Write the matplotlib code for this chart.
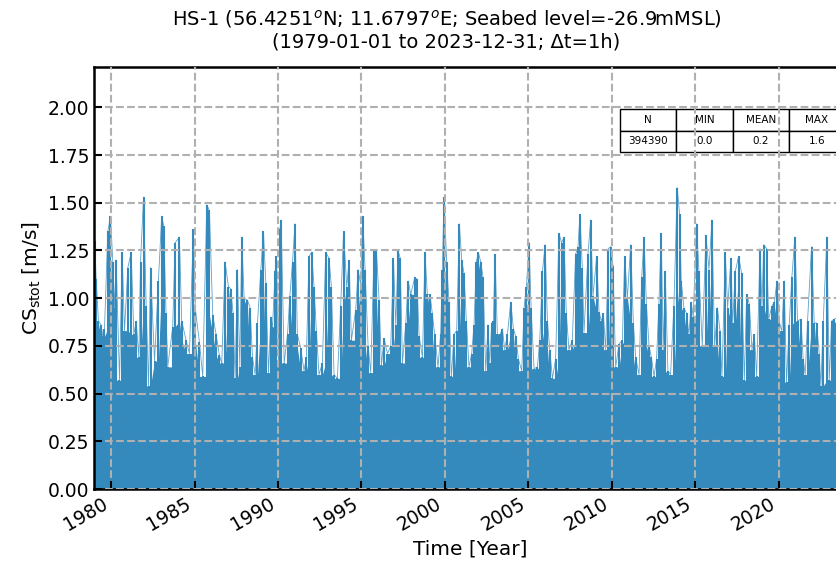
import matplotlib
matplotlib.use("Agg")
import matplotlib.pyplot as plt
import matplotlib.dates as mdates
import numpy as np
import pandas as pd

# Envelope of hourly current speed (decimal year, m/s)
t_year = [
    1979.02, 1979.10, 1979.24, 1979.40, 1979.50, 1979.60, 1979.80, 1979.96,
    1980.10, 1980.20, 1980.30, 1980.50, 1980.66, 1980.80, 1981.00, 1981.20,
    1981.36, 1981.50, 1981.66, 1981.76, 1981.94, 1982.10, 1982.24, 1982.36,
    1982.60, 1982.83, 1983.03, 1983.15, 1983.29, 1983.39, 1983.69, 1983.83,
    1984.09, 1984.23, 1984.49, 1984.69, 1984.93, 1985.05, 1985.29, 1985.49,
    1985.73, 1985.89, 1986.09, 1986.29, 1986.49, 1986.63, 1986.83, 1987.03,
    1987.17, 1987.31, 1987.43, 1987.57, 1987.71, 1987.83, 1987.97, 1988.17,
    1988.33, 1988.47, 1988.63, 1988.77, 1988.97, 1989.13, 1989.27, 1989.43,
    1989.57, 1989.67, 1989.83, 1989.91, 1990.03, 1990.11, 1990.19, 1990.37,
    1990.57, 1990.71, 1990.87, 1991.02, 1991.16, 1991.36, 1991.56, 1991.70,
    1991.86, 1992.02, 1992.16, 1992.30, 1992.46, 1992.66, 1992.86, 1993.06,
    1993.20, 1993.36, 1993.56, 1993.76, 1993.93, 1994.12, 1994.26, 1994.40,
    1994.66, 1994.80, 1994.96, 1995.08, 1995.22, 1995.40, 1995.56, 1995.76,
    1995.90, 1996.06, 1996.20, 1996.36, 1996.56, 1996.76, 1996.92, 1997.06,
    1997.20, 1997.32, 1997.46, 1997.66, 1997.80, 1997.96, 1998.20, 1998.32,
    1998.46, 1998.66, 1998.81, 1998.95, 1999.11, 1999.25, 1999.39, 1999.59,
    1999.75, 1999.85, 1999.95, 2000.11, 2000.25, 2000.39, 2000.55, 2000.71,
    2000.87, 2001.01, 2001.15, 2001.29, 2001.45, 2001.61, 2001.75, 2001.89,
    2002.01, 2002.15, 2002.29, 2002.45, 2002.59, 2002.69, 2002.81, 2002.91,
    2003.01, 2003.15, 2003.31, 2003.45, 2003.59, 2003.75, 2003.95, 2004.11,
    2004.25, 2004.41, 2004.61, 2004.75, 2004.89, 2005.05, 2005.17, 2005.35,
    2005.55, 2005.69, 2005.85, 2006.01, 2006.15, 2006.29, 2006.45, 2006.64,
    2006.84, 2007.00, 2007.14, 2007.28, 2007.44, 2007.64, 2007.84, 2007.98,
    2008.10, 2008.24, 2008.34, 2008.58, 2008.74, 2008.88, 2009.10, 2009.24,
    2009.38, 2009.50, 2009.64, 2009.80, 2009.94, 2010.08, 2010.24, 2010.44,
    2010.64, 2010.78, 2010.94, 2011.14, 2011.30, 2011.44, 2011.64, 2011.80,
    2011.94, 2012.08, 2012.24, 2012.38, 2012.54, 2012.69, 2012.83, 2012.97,
    2013.09, 2013.21, 2013.37, 2013.53, 2013.73, 2013.93, 2014.07, 2014.17,
    2014.33, 2014.49, 2014.63, 2014.77, 2014.89, 2015.09, 2015.23, 2015.43,
    2015.65, 2015.83, 2016.01, 2016.17, 2016.34, 2016.49, 2016.61, 2016.81,
    2016.95, 2017.15, 2017.25, 2017.41, 2017.61, 2017.79, 2017.95, 2018.09,
    2018.25, 2018.41, 2018.55, 2018.69, 2018.89, 2019.01, 2019.11, 2019.29,
    2019.41, 2019.61, 2019.75, 2019.91, 2020.05, 2020.20, 2020.34, 2020.48,
    2020.64, 2020.80, 2020.98, 2021.14, 2021.34, 2021.48, 2021.60, 2021.74,
    2021.98, 2022.14, 2022.28, 2022.44, 2022.54, 2022.68, 2022.90, 2023.04,
    2023.18, 2023.34, 2023.60, 2023.99,
]
cs_stot = [
    1.30, 1.10, 0.88, 0.86, 0.80, 0.84, 1.35, 1.43,
    1.19, 0.95, 1.20, 0.57, 1.24, 0.83, 1.16, 1.24,
    0.81, 0.88, 0.69, 1.19, 1.53, 0.96, 0.54, 1.16,
    0.67, 1.09, 1.43, 1.38, 0.92, 0.64, 0.85, 1.29,
    1.32, 0.88, 0.78, 0.71, 1.36, 0.94, 0.77, 0.59,
    1.49, 1.46, 0.91, 0.81, 0.70, 0.66, 1.19, 1.06,
    1.05, 0.92, 0.58, 1.15, 0.64, 1.32, 1.00, 0.99,
    0.95, 0.69, 0.60, 0.87, 1.15, 1.35, 1.08, 0.61,
    0.90, 0.85, 1.14, 1.22, 0.67, 1.36, 1.41, 0.66,
    0.81, 1.01, 1.19, 1.39, 0.81, 0.74, 0.62, 0.69,
    1.22, 1.24, 1.06, 0.83, 0.60, 0.66, 1.24, 1.21,
    1.06, 0.60, 0.58, 0.96, 1.35, 1.06, 1.20, 0.78,
    0.94, 1.15, 1.07, 1.43, 1.15, 0.75, 0.61, 1.25,
    1.25, 0.99, 0.65, 0.79, 0.71, 0.75, 1.21, 0.86,
    1.25, 1.21, 0.66, 0.87, 1.09, 1.02, 1.11, 1.10,
    0.80, 0.69, 1.24, 1.02, 1.02, 0.92, 0.81, 0.64,
    0.81, 1.15, 1.53, 1.19, 0.98, 0.59, 0.81, 0.83,
    1.39, 1.20, 1.13, 0.88, 0.64, 0.71, 0.86, 1.19,
    1.24, 1.19, 1.11, 0.62, 0.86, 0.66, 0.87, 0.88,
    1.23, 0.81, 0.81, 0.84, 0.73, 0.81, 0.98, 0.84,
    0.80, 0.68, 0.62, 0.95, 1.06, 1.29, 0.95, 0.63,
    0.64, 0.78, 1.14, 1.28, 0.88, 0.73, 0.58, 0.68,
    1.34, 1.29, 1.32, 0.92, 0.73, 0.78, 1.23, 1.27,
    1.44, 1.16, 0.82, 1.23, 1.41, 1.01, 1.22, 0.93,
    0.88, 0.92, 0.73, 1.26, 1.27, 1.17, 0.64, 0.76,
    0.78, 1.22, 1.00, 1.28, 0.87, 0.69, 0.60, 1.11,
    1.32, 0.97, 0.75, 0.69, 0.59, 0.68, 0.97, 1.34,
    0.73, 1.14, 0.62, 0.60, 0.96, 1.58, 1.44, 1.09,
    0.95, 0.92, 0.81, 0.98, 0.90, 1.39, 1.14, 0.75,
    1.33, 1.15, 1.41, 0.75, 0.95, 0.83, 0.59, 1.24,
    0.95, 1.21, 0.87, 1.14, 1.22, 1.13, 0.57, 1.02,
    0.97, 0.73, 0.81, 0.59, 1.26, 0.96, 1.28, 1.26,
    0.89, 0.96, 0.98, 1.09, 0.87, 0.83, 1.09, 0.56,
    0.86, 1.11, 1.32, 0.88, 0.89, 0.68, 0.60, 0.88,
    1.27, 0.87, 0.87, 0.71, 0.54, 0.88, 1.32, 0.57,
    0.88, 0.89, 0.90, 0.85,
]

stat_names = ['N', 'MIN', 'MEAN', 'MAX']
stat_values = ['394390', '0.0', '0.2', '1.6']

color = '#348ABD'

t0 = pd.Timestamp('1979-01-01')
dates = [t0 + pd.Timedelta(days=(y - 1979) * 365.25) for y in t_year]
cs = np.array(cs_stot)
# solid part under the spikes: lowest of each reading and its neighbours
floor = pd.Series(cs).rolling(3, center=True, min_periods=1).min().values

fig = plt.figure(figsize=(8.36, 5.70), dpi=100)
ax = fig.add_axes([0.113, 0.142, 0.898, 0.740])

ax.fill_between(dates, 0, floor, color=color, lw=0)
ax.plot(dates, cs, color=color, lw=0.6, alpha=0.8)
ax.vlines(dates, 0, cs, color=color, lw=1.5)

ax.set_xlim(pd.Timestamp('1979-01-01'), pd.Timestamp('2023-12-31'))
ax.set_ylim(0, 2.21)
ax.set_yticks(np.arange(0, 2.01, 0.25))
ax.yaxis.set_major_formatter(matplotlib.ticker.FormatStrFormatter('%.2f'))
ax.xaxis.set_major_locator(mdates.YearLocator(5))
ax.xaxis.set_major_formatter(mdates.DateFormatter('%Y'))
for lbl in ax.get_xticklabels():
    lbl.set_rotation(30)
    lbl.set_ha('right')

ax.tick_params(direction='in', length=6, width=1.5, labelsize=13.5)
for s in ax.spines.values():
    s.set_linewidth(1.8)

ax.set_axisbelow(False)
ax.grid(True, ls='--', color='#b0b0b0', lw=1.5)

ax.set_xlabel('Time [Year]', fontsize=14.5)
ax.set_ylabel('CS$_{\\mathrm{stot}}$ [m/s]', fontsize=14.5)
ax.set_title('HS-1 (56.4251$^o$N; 11.6797$^o$E; Seabed level=-26.9mMSL)\n'
             '(1979-01-01 to 2023-12-31; \u0394t=1h)', fontsize=14,
             x=0.469, pad=14)

tab = ax.table(cellText=[stat_values], colLabels=stat_names,
               cellLoc='center', bbox=[0.70, 0.80, 0.30, 0.10])
tab.auto_set_font_size(False)
tab.set_fontsize(7.5)
tab.set_zorder(1.8)

fig.savefig('out.png', dpi=100)
